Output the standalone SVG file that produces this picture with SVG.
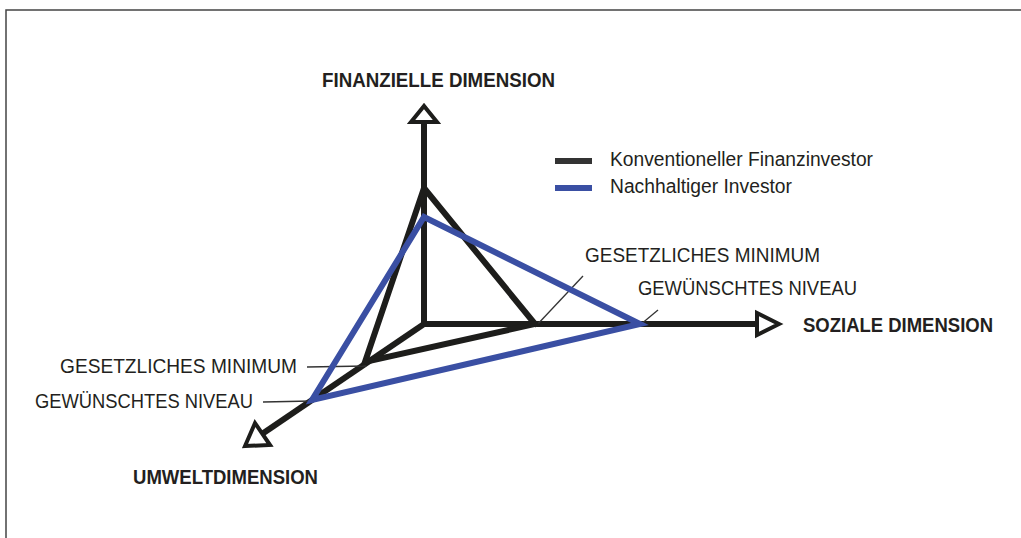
<svg xmlns="http://www.w3.org/2000/svg" width="1021" height="538" viewBox="0 0 1021 538">
<style>
.title{font-family:"Liberation Sans",Arial,sans-serif;font-weight:bold;font-size:19.5px;fill:#231f20}
.lab{font-family:"Liberation Sans",Arial,sans-serif;font-size:20.5px;fill:#231f20}
.leg{font-family:"Liberation Sans",Arial,sans-serif;font-size:19.5px;fill:#231f20}
.axis{stroke:#1d1d1b;stroke-width:6;fill:none}
.head{stroke:#1d1d1b;stroke-width:4;fill:#fff;stroke-linejoin:miter}
.conv{stroke:#1d1d1b;stroke-width:6;fill:none;stroke-linejoin:miter}
.sust{stroke:#3a4fa3;stroke-width:6;fill:none;stroke-linejoin:miter}
.lead{stroke:#333;stroke-width:1.3;fill:none}
</style>
<rect width="1021" height="538" fill="#fff"/>
<g id="frame">
<path d="M6,538 V10 H1021" fill="none" stroke="#444" stroke-width="1.5"/>
</g>
<g id="connectors">
<line class="axis" x1="424" y1="327" x2="424" y2="122"/>
<line class="axis" x1="421" y1="324" x2="757" y2="324"/>
<line class="axis" x1="424" y1="324" x2="262" y2="434"/>
<polygon class="head" points="424,106 411,122 437,122"/>
<polygon class="head" points="779,324 757,313 757,335"/>
<polygon class="head" points="245,446 270,445 255,423"/>
<line class="lead" x1="535" y1="327" x2="583" y2="276"/>
<line class="lead" x1="640" y1="325" x2="658" y2="310"/>
<line class="lead" x1="307" y1="367" x2="366" y2="366"/>
<line class="lead" x1="263" y1="402" x2="312" y2="401"/>
</g>
<g id="conventional">
<polygon class="conv" points="424,188 535,324 365,362"/>
</g>
<g id="sustainable">
<polygon class="sust" points="424,217 640,324 312,400"/>
</g>
<g id="axis-labels">
<text class="title" x="322" y="87" textLength="233" lengthAdjust="spacingAndGlyphs">FINANZIELLE DIMENSION</text>
<text class="title" x="803" y="332" textLength="190" lengthAdjust="spacingAndGlyphs">SOZIALE DIMENSION</text>
<text class="title" x="133" y="484" textLength="185" lengthAdjust="spacingAndGlyphs">UMWELTDIMENSION</text>
</g>
<g id="level-labels">
<text class="lab" x="585" y="262" textLength="235" lengthAdjust="spacingAndGlyphs">GESETZLICHES MINIMUM</text>
<text class="lab" x="638" y="295" textLength="219" lengthAdjust="spacingAndGlyphs">GEWÜNSCHTES NIVEAU</text>
<text class="lab" x="60" y="373" textLength="237" lengthAdjust="spacingAndGlyphs">GESETZLICHES MINIMUM</text>
<text class="lab" x="35" y="408" textLength="218" lengthAdjust="spacingAndGlyphs">GEWÜNSCHTES NIVEAU</text>
</g>
<g id="legend">
<line x1="555" y1="161" x2="592" y2="161" stroke="#333" stroke-width="6"/>
<line x1="555" y1="188" x2="592" y2="188" stroke="#3a4fa3" stroke-width="6"/>
<text class="leg" x="610" y="166" textLength="263" lengthAdjust="spacingAndGlyphs">Konventioneller Finanzinvestor</text>
<text class="leg" x="610" y="193" textLength="182" lengthAdjust="spacingAndGlyphs">Nachhaltiger Investor</text>
</g>
</svg>
